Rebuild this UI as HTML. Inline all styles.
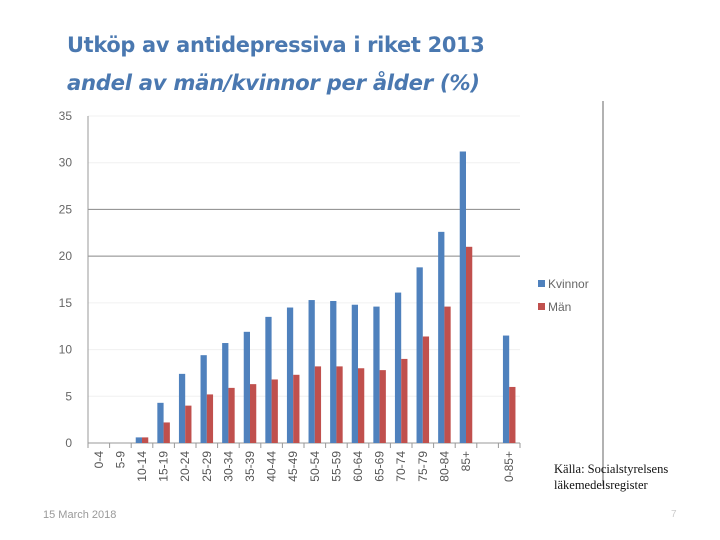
<!DOCTYPE html>
<html><head><meta charset="utf-8"><style>
body{margin:0;width:720px;height:540px;background:#fff;overflow:hidden;font-family:"Liberation Sans",sans-serif;position:relative}
.t{position:absolute;left:67px;color:#4a78b0;font-family:"DejaVu Sans","Liberation Sans",sans-serif;font-size:20.9px;font-weight:bold;letter-spacing:-0.3px}
</style></head><body>
<div class="t" style="top:33px">Utköp av antidepressiva i riket 2013</div>
<div class="t" style="top:70px;font-style:italic;font-size:21.2px">andel av män/kvinnor per ålder (%)</div>
<svg id="c" width="720" height="540" style="position:absolute;left:0;top:0"></svg>
<div style="position:absolute;left:554px;top:461px;font-family:'Liberation Serif',serif;font-size:12.5px;line-height:16px;color:#111">Källa: Socialstyrelsens<br>läkemedelsregister</div>
<div style="position:absolute;left:43px;top:509px;font-size:11px;color:#999">15 March 2018</div>
<div style="position:absolute;left:671px;top:509px;font-size:10px;color:#ccc">7</div>
<script>
const categories=["0-4","5-9","10-14","15-19","20-24","25-29","30-34","35-39","40-44","45-49","50-54","55-59","60-64","65-69","70-74","75-79","80-84","85+","","0-85+"];
const kvinnor=[0,0,0.6,4.3,7.4,9.4,10.7,11.9,13.5,14.5,15.3,15.2,14.8,14.6,16.1,18.8,22.6,31.2,null,11.5];
const man=[0,0,0.6,2.2,4.0,5.2,5.9,6.3,6.8,7.3,8.2,8.2,8.0,7.8,9.0,11.4,14.6,21.0,null,6.0];
const yTicks=[0,5,10,15,20,25,30,35];
const svg=document.getElementById('c');const NS='http://www.w3.org/2000/svg';
const X0=88,X1=520,Y0=443,YT=116,YMAX=35;
const slot=(X1-X0)/categories.length;
const y=v=>Y0-(v/YMAX)*(Y0-YT);
const xs=i=>X0+i*slot;
function mk(t,a,p){const e=document.createElementNS(NS,t);for(const k in a)e.setAttribute(k,a[k]);(p||svg).appendChild(e);return e;}
yTicks.forEach(v=>{
  if(v>0){const g=mk('line',{x1:X0,x2:X1,y1:y(v),y2:y(v),stroke:(v==20||v==25)?'#888':'#f0f0f0','stroke-width':1});
  
  }
  const t=mk('text',{x:X0-16,y:y(v)+4,'text-anchor':'end','font-size':12,fill:'#666'});t.textContent=v;
  
  
});
const ax=mk('line',{x1:X0,x2:X0,y1:YT,y2:Y0+5,stroke:'#999'});


const bx=mk('line',{x1:X0,x2:X1,y1:Y0,y2:Y0,stroke:'#999'});


const bw=slot*0.29;
categories.forEach((c,i)=>{
  mk('line',{x1:xs(i),x2:xs(i),y1:Y0,y2:Y0+5,stroke:'#999'});
  const cx=xs(i)+slot/2;
  if(kvinnor[i]!=null){
    const r=mk('rect',{x:cx-bw,y:y(kvinnor[i]),width:bw,height:Y0-y(kvinnor[i]),fill:'#4f81bd'});
    
    
    const m=mk('rect',{x:cx,y:y(man[i]),width:bw,height:Y0-y(man[i]),fill:'#c0504d'});
    
    
  }
  if(c){const t=mk('text',{x:0,y:0,'text-anchor':'end','font-size':12,fill:'#555',transform:`translate(${cx+4},${Y0+8}) rotate(-90)`});t.textContent=c;
  
  }
});
mk('line',{x1:X1,x2:X1,y1:Y0,y2:Y0+5,stroke:'#999'});
const vl=mk('line',{x1:603,x2:603,y1:101,y2:486,stroke:'#888','stroke-width':1.3});


[['Kvinnor','#4f81bd',284],['Män','#c0504d',307]].forEach(([n,col,yy])=>{
  const g=mk('g',{});
  
  
  mk('rect',{x:538,y:yy-4,width:7,height:7,fill:col},g);
  const t=mk('text',{x:548,y:yy+4,'font-size':12,fill:'#666'},g);t.textContent=n;
});
</script>
</body></html>
